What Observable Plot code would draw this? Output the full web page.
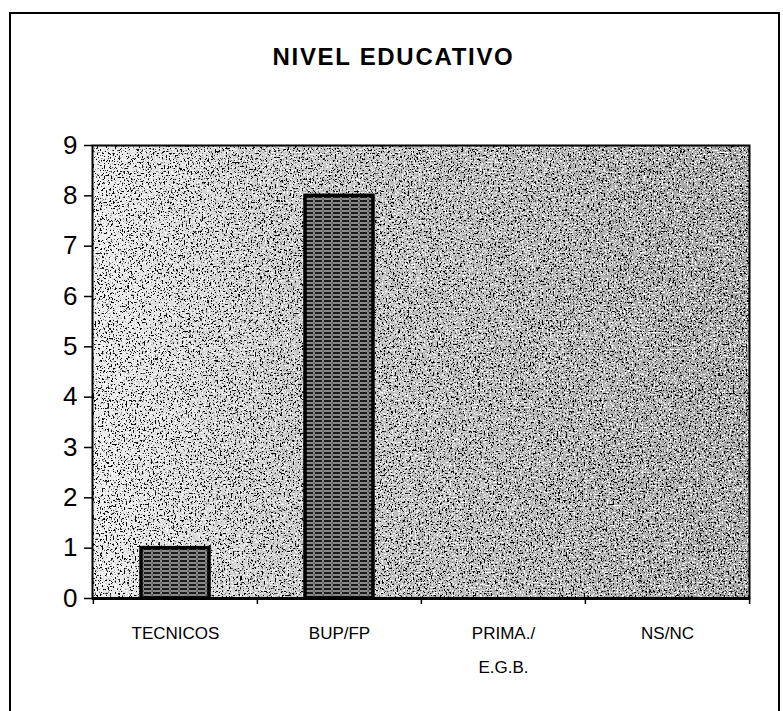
<!DOCTYPE html>
<html>
<head>
<meta charset="utf-8">
<script src="https://cdn.jsdelivr.net/npm/d3@7"></script>
<script src="https://cdn.jsdelivr.net/npm/@observablehq/plot@0.6"></script>
<style>
  html, body { margin: 0; padding: 0; background: #fff; }
  body { width: 783px; height: 711px; position: relative; overflow: hidden; font-family: "Liberation Sans", Arial, sans-serif; }
  #frame { position: absolute; left: 9px; top: 12px; width: 767px; height: 720px; border: 2px solid #000; border-bottom: none; pointer-events: none; }
  #title { position: absolute; left: 0; top: 45px; width: 787px; text-align: center; font-size: 24px; line-height: 24px; font-weight: bold; letter-spacing: 1.7px; color: #000; }
  #chart { position: absolute; left: 0; top: 100px; }
</style>
</head>
<body>
<div id="frame"></div>
<div id="title">NIVEL EDUCATIVO</div>
<div id="chart"></div>
<script>
const categories = ["TECNICOS", "BUP/FP", "PRIMA./ E.G.B.", "NS/NC"];
const values = [1, 8, 0, 0];
const yTicks = [0, 1, 2, 3, 4, 5, 6, 7, 8, 9];

const data = categories.map((c, i) => ({category: c, value: values[i]}));

const W = 783, H = 611, mL = 92, mR = 34, mT = 45, mB = 113;
const bw = (W - mL - mR) / categories.length;

const plot = Plot.plot({
  width: W, height: H,
  marginLeft: mL, marginRight: mR, marginTop: mT, marginBottom: mB,
  style: {fontFamily: "'Liberation Sans', Arial, sans-serif", color: "#000", background: "transparent", overflow: "visible"},
  x: {domain: categories, padding: 0, label: null},
  y: {domain: [0, 9], label: null},
  marks: [
    Plot.frame({fill: "url(#bgGrad)", stroke: "none"}),
    Plot.frame({fill: "#000", stroke: "none"}),
    Plot.frame({fill: "#fff", stroke: "none"}),
    Plot.barY(data.filter(d => d.value > 0), {x: "category", y: "value", fill: "url(#barPat)", stroke: "#000", strokeWidth: 3.5, insetLeft: 48, insetRight: 48}),
    Plot.frame({stroke: "#000", strokeWidth: 2, fill: "none"}),
    Plot.ruleY([0], {stroke: "#000", strokeWidth: 3}),
    Plot.ruleX(categories, {x: d => d, y1: 0, y2: 0, insetBottom: -6, dx: -bw / 2, stroke: "#000", strokeWidth: 1.5}),
    Plot.ruleX(categories.slice(-1), {x: d => d, y1: 0, y2: 0, insetBottom: -6, dx: bw / 2, stroke: "#000", strokeWidth: 1.5}),
    Plot.axisY({ticks: yTicks, tickSize: 8, tickPadding: 7, fontSize: 26, tickFormat: d => String(d), stroke: "#000", strokeWidth: 1.5}),
    Plot.axisX({tickSize: 0, tickPadding: 16, fontSize: 17, tickFormat: d => d.replace("/ ", "/\n"), lineHeight: 2.0})
  ]
});

const svg = d3.select(plot);
const defs = svg.insert("defs", ":first-child");
const g = defs.append("linearGradient").attr("id", "bgGrad").attr("x1", "0").attr("x2", "1").attr("y1", "0").attr("y2", "0");
g.append("stop").attr("offset", "0").attr("stop-color", "#ececec");
g.append("stop").attr("offset", "0.3").attr("stop-color", "#c8c8c8");
g.append("stop").attr("offset", "1").attr("stop-color", "#a6a6a6");

const f1 = defs.append("filter").attr("id", "speckDark").attr("x", 0).attr("y", 0).attr("width", "100%").attr("height", "100%");
f1.append("feTurbulence").attr("type", "fractalNoise").attr("baseFrequency", 0.55).attr("numOctaves", 2).attr("seed", 4).attr("result", "t");
f1.append("feColorMatrix").attr("in", "t").attr("type", "matrix").attr("values", "0 0 0 0 0  0 0 0 0 0  0 0 0 0 0  14 0 0 0 -8.0").attr("result", "a");
f1.append("feComposite").attr("in", "a").attr("in2", "SourceGraphic").attr("operator", "in");

const f2 = defs.append("filter").attr("id", "speckLight").attr("x", 0).attr("y", 0).attr("width", "100%").attr("height", "100%");
f2.append("feTurbulence").attr("type", "fractalNoise").attr("baseFrequency", 0.6).attr("numOctaves", 2).attr("seed", 11).attr("result", "t");
f2.append("feColorMatrix").attr("in", "t").attr("type", "matrix").attr("values", "0 0 0 0 1  0 0 0 0 1  0 0 0 0 1  14 0 0 0 -8.0").attr("result", "a");
f2.append("feComposite").attr("in", "a").attr("in2", "SourceGraphic").attr("operator", "in");

const p = defs.append("pattern").attr("id", "barPat").attr("patternUnits", "userSpaceOnUse").attr("width", 9).attr("height", 4);
p.append("rect").attr("width", 9).attr("height", 4).attr("fill", "#8a8a8a");
p.append("rect").attr("x", 0).attr("y", 0).attr("width", 7).attr("height", 2).attr("fill", "#1a1a1a");
p.append("rect").attr("x", 7.5).attr("y", 2.5).attr("width", 1.5).attr("height", 1).attr("fill", "#333");

const frames = svg.selectAll("[aria-label=frame]").nodes();
if (frames[1]) d3.select(frames[1]).attr("filter", "url(#speckDark)");
if (frames[2]) d3.select(frames[2]).attr("filter", "url(#speckLight)");

document.getElementById("chart").appendChild(plot);
</script>
</body>
</html>
